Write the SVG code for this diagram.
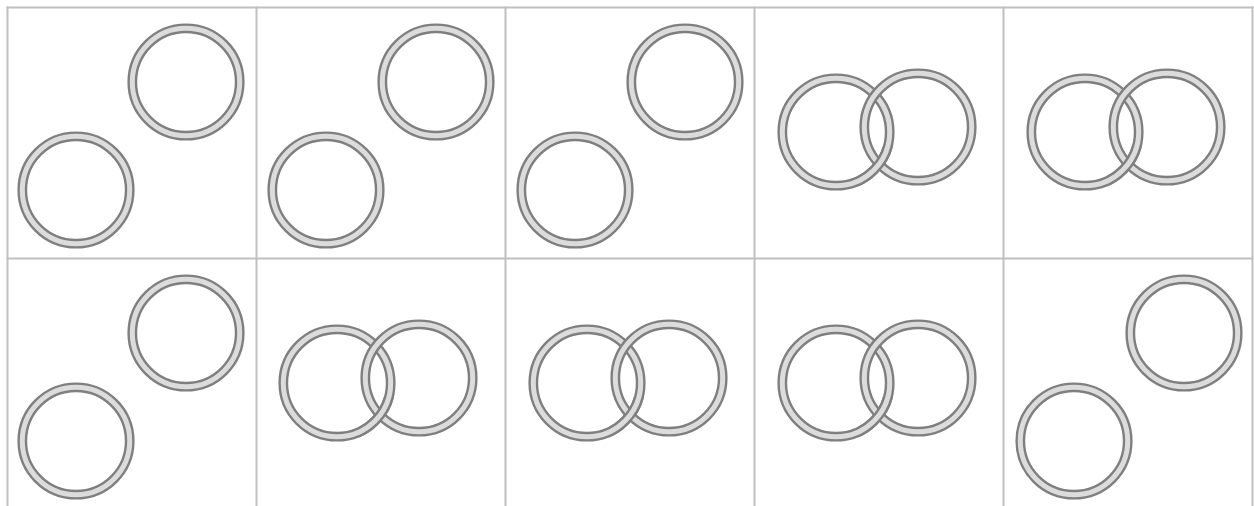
<svg xmlns="http://www.w3.org/2000/svg" xmlns:xlink="http://www.w3.org/1999/xlink" width="1254" height="506" viewBox="0 0 1254 506">
  <style>
    .grid { stroke: #c0c0c0; stroke-width: 2; fill: none; }
    .ring { fill: #dcdcdc; fill-rule: evenodd; stroke: #7f7f7f; stroke-width: 2.4; }
  </style>
  <defs>
    <path id="ring" class="ring" d="M-57.4,0a57.4,57.4 0 1,0 114.8,0a57.4,57.4 0 1,0 -114.8,0Z M-50,0a50,50 0 1,0 100,0a50,50 0 1,0 -100,0Z"/>
    <clipPath id="lowCross">
      <rect x="22" y="14" width="46" height="46"/>
    </clipPath>
    <g id="pair">
      <use xlink:href="#ring"/>
      <use xlink:href="#ring" transform="translate(82,-5)"/>
      <g clip-path="url(#lowCross)"><use xlink:href="#ring"/></g>
    </g>
    <g id="apart">
      <use xlink:href="#ring" transform="translate(110,-108)"/>
      <use xlink:href="#ring"/>
    </g>
  </defs>
  <rect width="1254" height="506" fill="#ffffff"/>
  <g id="grid">
    <line class="grid" x1="7.5" y1="6.5" x2="7.5" y2="506"/>
    <line class="grid" x1="256.5" y1="6.5" x2="256.5" y2="506"/>
    <line class="grid" x1="505.5" y1="6.5" x2="505.5" y2="506"/>
    <line class="grid" x1="754.5" y1="6.5" x2="754.5" y2="506"/>
    <line class="grid" x1="1003.5" y1="6.5" x2="1003.5" y2="506"/>
    <line class="grid" x1="1252.5" y1="6.5" x2="1252.5" y2="506"/>
    <line class="grid" x1="6.5" y1="7.5" x2="1253.5" y2="7.5"/>
    <line class="grid" x1="6.5" y1="258.5" x2="1253.5" y2="258.5"/>
  </g>
  <g id="cell-1-1"><use xlink:href="#apart" transform="translate(76,190)"/></g>
  <g id="cell-1-2"><use xlink:href="#apart" transform="translate(326,190)"/></g>
  <g id="cell-1-3"><use xlink:href="#apart" transform="translate(575,190)"/></g>
  <g id="cell-1-4"><use xlink:href="#pair" transform="translate(836,132)"/></g>
  <g id="cell-1-5"><use xlink:href="#pair" transform="translate(1085,132)"/></g>
  <g id="cell-2-1"><use xlink:href="#apart" transform="translate(76,441)"/></g>
  <g id="cell-2-2"><use xlink:href="#pair" transform="translate(337,383)"/></g>
  <g id="cell-2-3"><use xlink:href="#pair" transform="translate(587,383)"/></g>
  <g id="cell-2-4"><use xlink:href="#pair" transform="translate(836,383)"/></g>
  <g id="cell-2-5"><use xlink:href="#apart" transform="translate(1074,441)"/></g>
  <g id="connectors"/>
</svg>
